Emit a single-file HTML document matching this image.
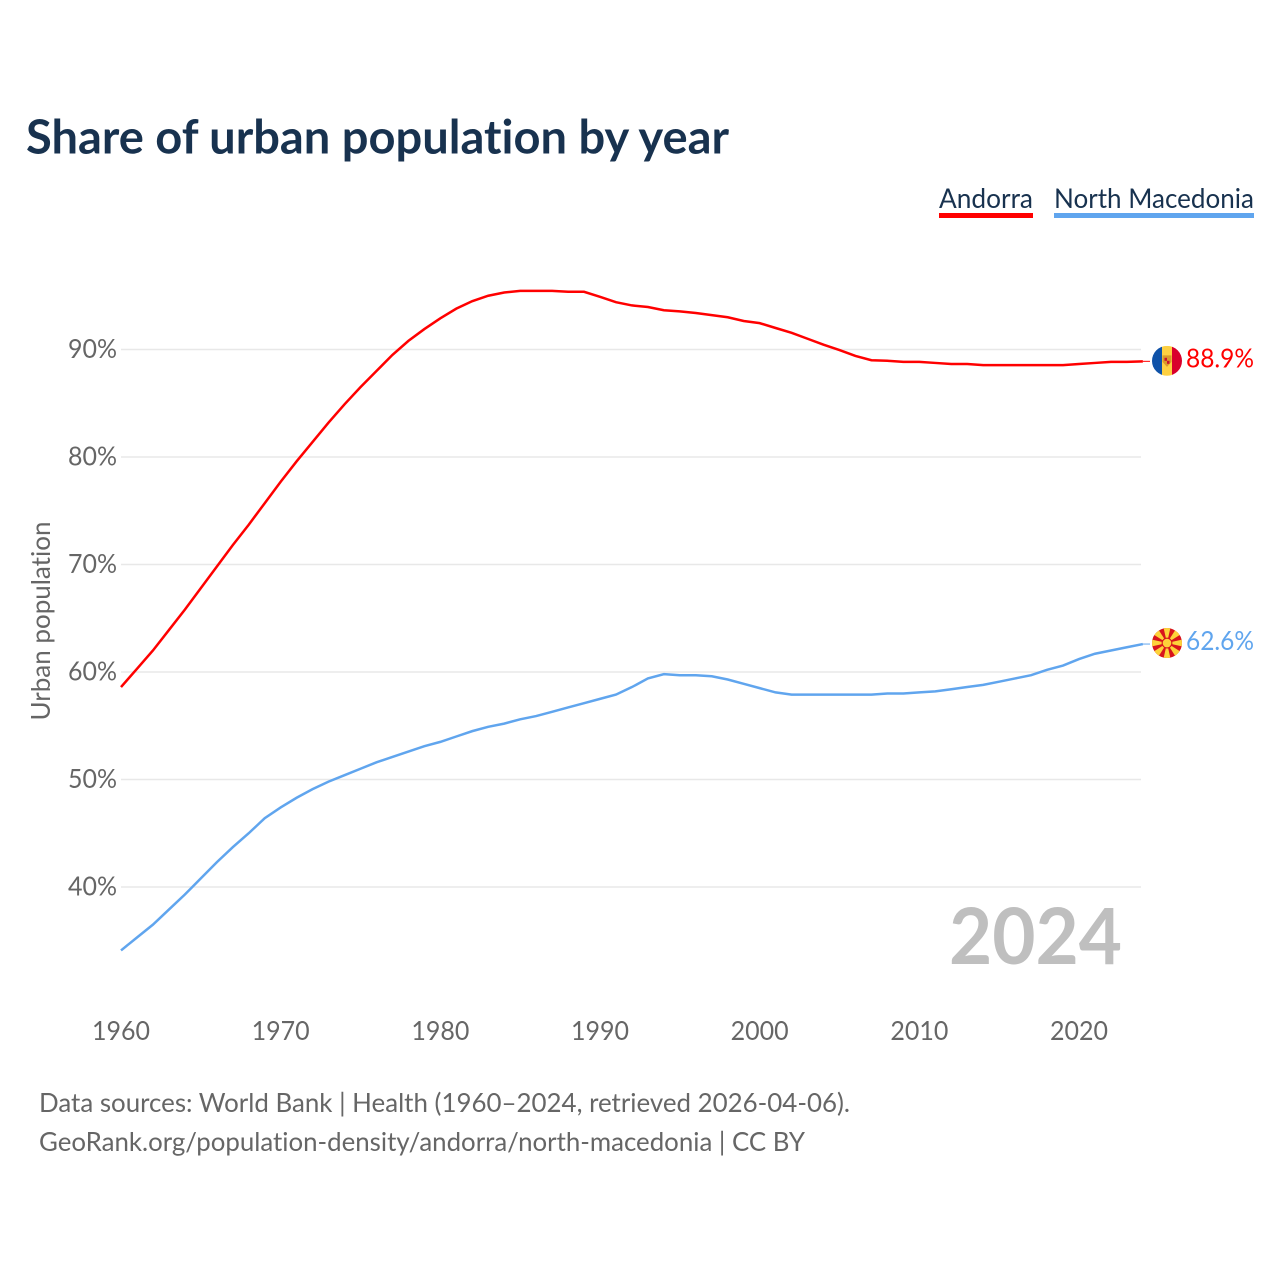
<!DOCTYPE html>
<html>
<head>
<meta charset="utf-8">
<title>Share of urban population by year</title>
<style>
html,body{margin:0;padding:0;background:#fff;width:1280px;height:1280px;overflow:hidden}
svg{display:block}
text{font-family:"Lato","Carlito","Liberation Sans",sans-serif;font-variant-ligatures:none}
</style>
</head>
<body>
<svg id="chart" width="1280" height="1280" viewBox="0 0 1280 1280" xmlns="http://www.w3.org/2000/svg">
  <rect width="1280" height="1280" fill="#fff"/>
  <text x="26" y="153.5" font-size="47" font-weight="700" fill="#18324f" textLength="703" lengthAdjust="spacingAndGlyphs">Share of urban population by year</text>

  <g>
    <text x="939" y="208" font-size="27.5" fill="#18324f" textLength="94" lengthAdjust="spacingAndGlyphs">Andorra</text>
    <rect x="939" y="213" width="94" height="5" fill="#ff0000"/>
  </g>
  <g>
    <text x="1054" y="208" font-size="27.5" fill="#18324f" textLength="200" lengthAdjust="spacingAndGlyphs">North Macedonia</text>
    <rect x="1054" y="213" width="200" height="5" fill="#60a5ee"/>
  </g>

  <g id="grid"></g>
  <g id="yticks"></g>
  <g id="xticks"></g>

  <text transform="translate(50,621) rotate(-90)" text-anchor="middle" font-size="26" fill="#666" textLength="199" lengthAdjust="spacingAndGlyphs">Urban population</text>

  <text x="1122" y="964" text-anchor="end" font-size="78" font-weight="700" fill="#bfbfbf" textLength="173" lengthAdjust="spacingAndGlyphs">2024</text>

  <g id="series"></g>

  <g id="flag-ad">
    <clipPath id="clip-ad"><circle cx="1167" cy="0" r="15"/></clipPath>
    <g clip-path="url(#clip-ad)">
      <rect x="1152" y="-15" width="10" height="30" fill="#0f52a8"/>
      <rect x="1162" y="-15" width="10" height="30" fill="#fdd042"/>
      <rect x="1172" y="-15" width="10" height="30" fill="#d9002c"/>
      <path d="M1162.5 -5.5h9v6.5l-4.5 5l-4.5-5z" fill="#d99a2b"/>
      <rect x="1164.5" y="-3" width="2.5" height="3" fill="#c8102e"/>
      <rect x="1167" y="0" width="2.5" height="3" fill="#c8102e"/>
    </g>
  </g>
  <g id="flag-mk">
    <clipPath id="clip-mk"><circle cx="1167" cy="0" r="15"/></clipPath>
    <g clip-path="url(#clip-mk)">
      <rect x="1152" y="-15" width="30" height="30" fill="#d8141c"/>
      <g fill="#fdd23a">
        <path d="M1167 0L1163.4 -16H1170.6Z"/>
        <path d="M1167 0L1163.4 -16H1170.6Z" transform="rotate(45 1167 0)"/>
        <path d="M1167 0L1163.4 -16H1170.6Z" transform="rotate(90 1167 0)"/>
        <path d="M1167 0L1163.4 -16H1170.6Z" transform="rotate(135 1167 0)"/>
        <path d="M1167 0L1163.4 -16H1170.6Z" transform="rotate(180 1167 0)"/>
        <path d="M1167 0L1163.4 -16H1170.6Z" transform="rotate(225 1167 0)"/>
        <path d="M1167 0L1163.4 -16H1170.6Z" transform="rotate(270 1167 0)"/>
        <path d="M1167 0L1163.4 -16H1170.6Z" transform="rotate(315 1167 0)"/>
      </g>
      <circle cx="1167" cy="0" r="5.4" fill="#d8141c"/>
      <circle cx="1167" cy="0" r="4.3" fill="#fdd23a"/>
    </g>
  </g>
  <text id="label-ad" x="1186" font-size="26.5" fill="#ff0000" textLength="68" lengthAdjust="spacingAndGlyphs"></text>
  <text id="label-mk" x="1186" font-size="26.5" fill="#60a5ee" textLength="68" lengthAdjust="spacingAndGlyphs"></text>

  <text x="39" y="1112" font-size="26.5" fill="#666" textLength="811" lengthAdjust="spacingAndGlyphs">Data sources: World Bank | Health (1960–2024, retrieved 2026-04-06).</text>
  <text x="39" y="1151" font-size="26.5" fill="#666" textLength="766" lengthAdjust="spacingAndGlyphs">GeoRank.org/population-density/andorra/north-macedonia | CC BY</text>
</svg>
<script>
const startYear = 1960;
const xTickYears = [1960, 1970, 1980, 1990, 2000, 2010, 2020];
const yTickValues = [40, 50, 60, 70, 80, 90];
const andorraValues = [58.6,60.3,62.0,63.9,65.8,67.8,69.8,71.8,73.7,75.7,77.7,79.6,81.4,83.2,84.9,86.5,88.0,89.5,90.8,91.9,92.9,93.8,94.5,95.0,95.3,95.45,95.45,95.45,95.37,95.37,94.9,94.4,94.1,93.95,93.65,93.55,93.4,93.2,93.0,92.65,92.45,92.0,91.55,91.0,90.45,89.95,89.4,89.0,88.95,88.85,88.85,88.75,88.65,88.65,88.55,88.55,88.55,88.55,88.55,88.55,88.65,88.75,88.85,88.85,88.9];
const macedoniaValues = [34.1,35.3,36.5,37.9,39.3,40.8,42.3,43.7,45.0,46.4,47.4,48.3,49.1,49.8,50.4,51.0,51.6,52.1,52.6,53.1,53.5,54.0,54.5,54.9,55.2,55.6,55.9,56.3,56.7,57.1,57.5,57.9,58.6,59.4,59.8,59.7,59.7,59.6,59.3,58.9,58.5,58.1,57.9,57.9,57.9,57.9,57.9,57.9,58.0,58.0,58.1,58.2,58.4,58.6,58.8,59.1,59.4,59.7,60.2,60.6,61.2,61.7,62.0,62.3,62.6];

const NS = 'http://www.w3.org/2000/svg';
function xScale(year) { return 121 + (year - 1960) * (1079 - 121) / 60; }
function yScale(v) { return 349.5 + (90 - v) * (887 - 349.5) / 50; }

const grid = document.getElementById('grid');
const yticks = document.getElementById('yticks');
const xticks = document.getElementById('xticks');
const series = document.getElementById('series');

yTickValues.forEach(function (v) {
  const line = document.createElementNS(NS, 'line');
  line.setAttribute('x1', 121);
  line.setAttribute('x2', 1141);
  line.setAttribute('y1', yScale(v));
  line.setAttribute('y2', yScale(v));
  line.setAttribute('stroke', '#e8e8e8');
  line.setAttribute('stroke-width', 1.4);
  
  
  grid.appendChild(line);

  const t = document.createElementNS(NS, 'text');
  t.setAttribute('x', 117);
  t.setAttribute('y', yScale(v) + 8.5);
  t.setAttribute('text-anchor', 'end');
  t.setAttribute('font-size', 26);
  t.setAttribute('fill', '#666');
  t.setAttribute('textLength', 49);
  t.setAttribute('lengthAdjust', 'spacingAndGlyphs');
  
  
  t.textContent = v + '%';
  yticks.appendChild(t);
});

xTickYears.forEach(function (y) {
  const t = document.createElementNS(NS, 'text');
  t.setAttribute('x', xScale(y));
  t.setAttribute('y', 1040);
  t.setAttribute('text-anchor', 'middle');
  t.setAttribute('font-size', 26);
  t.setAttribute('fill', '#666');
  t.setAttribute('textLength', 58);
  t.setAttribute('lengthAdjust', 'spacingAndGlyphs');
  
  
  t.textContent = y;
  xticks.appendChild(t);
});

function pathFor(values) {
  return values.map(function (v, i) {
    return (i ? 'L' : 'M') + xScale(startYear + i).toFixed(2) + ' ' + yScale(v).toFixed(2);
  }).join('');
}

const adLast = andorraValues[andorraValues.length - 1];
const mkLast = macedoniaValues[macedoniaValues.length - 1];
const lastX = xScale(startYear + andorraValues.length - 1);

const andorraConnector = document.createElementNS(NS, 'line');
andorraConnector.setAttribute('x1', lastX);
andorraConnector.setAttribute('x2', 1150);
andorraConnector.setAttribute('y1', yScale(adLast));
andorraConnector.setAttribute('y2', yScale(adLast));
andorraConnector.setAttribute('stroke', '#ff0000');
andorraConnector.setAttribute('stroke-width', 1);


series.appendChild(andorraConnector);

const macedoniaConnector = document.createElementNS(NS, 'line');
macedoniaConnector.setAttribute('x1', lastX);
macedoniaConnector.setAttribute('x2', 1150);
macedoniaConnector.setAttribute('y1', yScale(mkLast));
macedoniaConnector.setAttribute('y2', yScale(mkLast));
macedoniaConnector.setAttribute('stroke', '#60a5ee');
macedoniaConnector.setAttribute('stroke-width', 1);


series.appendChild(macedoniaConnector);

const andorraLine = document.createElementNS(NS, 'path');
andorraLine.setAttribute('d', pathFor(andorraValues));
andorraLine.setAttribute('fill', 'none');
andorraLine.setAttribute('stroke', '#ff0000');
andorraLine.setAttribute('stroke-width', 2.5);


series.appendChild(andorraLine);

const macedoniaLine = document.createElementNS(NS, 'path');
macedoniaLine.setAttribute('d', pathFor(macedoniaValues));
macedoniaLine.setAttribute('fill', 'none');
macedoniaLine.setAttribute('stroke', '#60a5ee');
macedoniaLine.setAttribute('stroke-width', 2.5);


series.appendChild(macedoniaLine);

document.getElementById('flag-ad').setAttribute('transform', 'translate(0,' + (yScale(adLast) - 0.5) + ')');
document.getElementById('flag-mk').setAttribute('transform', 'translate(0,' + (yScale(mkLast) - 1) + ')');
const labelAd = document.getElementById('label-ad');
labelAd.setAttribute('y', yScale(adLast) + 6);
labelAd.textContent = adLast.toFixed(1) + '%';
const labelMk = document.getElementById('label-mk');
labelMk.setAttribute('y', yScale(mkLast) + 6);
labelMk.textContent = mkLast.toFixed(1) + '%';
</script>
</body>
</html>
